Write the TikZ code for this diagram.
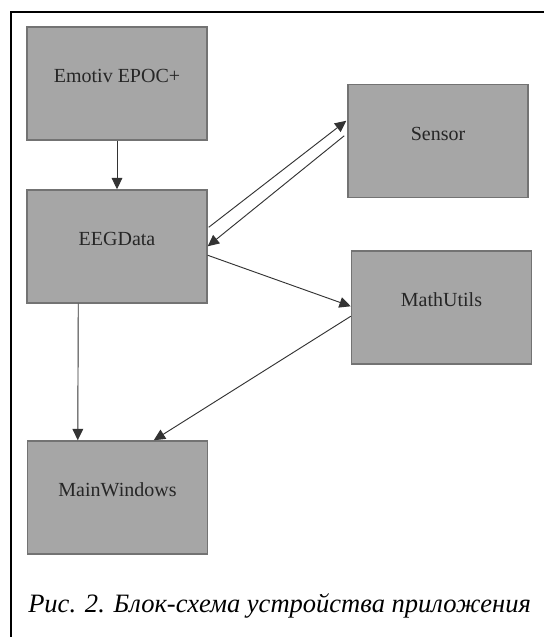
\documentclass[tikz,border=0pt]{standalone}
\usepackage{fontspec}
\setmainfont{Liberation Serif}
\usetikzlibrary{arrows.meta,calc}
\definecolor{boxfill}{HTML}{A6A6A6}
\definecolor{boxline}{HTML}{737373}
\definecolor{arrline}{HTML}{333333}
\tikzset{
  block/.style={draw=boxline, fill=boxfill, line width=1.1pt, minimum width=135pt, minimum height=84.75pt, inner sep=0pt},
  blocktext/.style={font=\fontsize{15pt}{18pt}\selectfont, text=black!85, inner sep=0pt, yshift=5.6pt},
  conn/.style={draw=arrline, line width=0.7pt, -{Triangle[length=8.5pt,width=8pt]}},
  frameline/.style={draw=black, line width=1.1pt}
}
\begin{document}
\begin{tikzpicture}[x=0.75pt,y=-0.75pt]
\useasboundingbox (0,0) rectangle (544,637);
\fill[white] (0,0) rectangle (544,637);
\draw[frameline] (11,637) -- (11,12) -- (544,12);

\node[block, label={[blocktext]center:Emotiv EPOC+}] (emotiv) at (117,83.5) {};
\node[block, label={[blocktext]center:Sensor}] (sensor) at (438,141) {};
\node[block, label={[blocktext]center:EEGData}] (eeg) at (117,246.5) {};
\node[block, label={[blocktext]center:MathUtils}] (math) at (441.5,307.5) {};
\node[block, label={[blocktext]center:MainWindows}] (mainw) at (117.5,497.5) {};

\draw[conn] (emotiv.south) -- (eeg.north);
\draw[conn] ($(eeg.north east)+(1,38)$) -- ($(sensor.north west)+(-1,37)$);
\draw[conn] ($(sensor.north west)+(-3,52)$) -- ($(eeg.north east)+(0,57)$);
\draw[conn] ($(eeg.north east)+(0,66)$) -- ($(math.north west)+(0,56)$);
\draw[conn] ($(math.north west)+(0,66)$) -- ($(mainw.north west)+(127,0)$);
\draw[conn] ($(eeg.south west)+(52,0)$) -- ($(mainw.north west)+(51,0)$);

\node[anchor=base west, inner sep=0pt, font=\itshape\fontsize{19.9pt}{23pt}\selectfont] (caption) at (28,612) {Рис. 2. Блок-схема устройства приложения};
\end{tikzpicture}
\end{document}
